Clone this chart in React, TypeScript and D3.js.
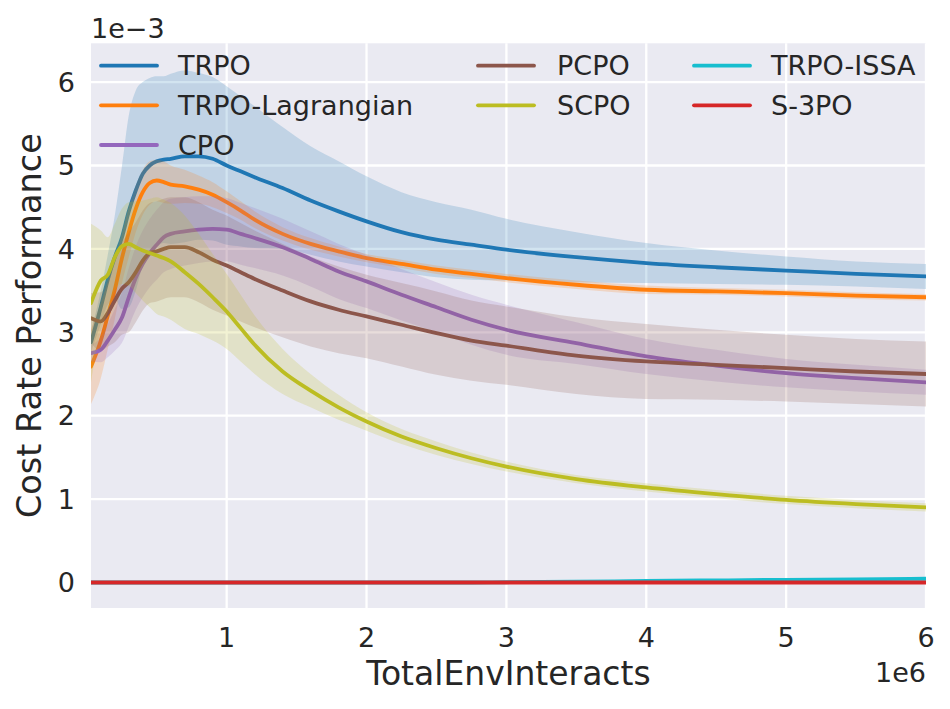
import React from 'react';
import * as d3 from 'd3';

// x in units of 1e6 env interacts, y in units of 1e-3
const steps = [0.03, 0.1, 0.15, 0.2, 0.25, 0.3, 0.35, 0.4, 0.45, 0.5, 0.55, 0.6, 0.7, 0.8, 0.9, 1.0,
  1.1, 1.2, 1.4, 1.6, 1.8, 2.0, 2.25, 2.5, 2.75, 3.0, 3.5, 4.0, 4.5, 5.0, 5.5, 6.0];

const trpoMean = [2.88, 3.3, 3.63, 3.9, 4.13, 4.45, 4.7, 4.9, 5.0, 5.05, 5.07, 5.08, 5.11, 5.11, 5.08, 5.0,
  4.93, 4.86, 4.73, 4.58, 4.45, 4.33, 4.2, 4.11, 4.05, 3.99, 3.9, 3.83, 3.78, 3.74, 3.7, 3.67];
const trpoStd = [0.12, 0.2, 0.3, 0.5, 0.85, 1.15, 1.2, 1.1, 1.05, 1.02, 1.0, 1.02, 1.03, 1.0, 0.98, 0.95,
  0.9, 0.85, 0.73, 0.65, 0.6, 0.54, 0.48, 0.45, 0.42, 0.37, 0.3, 0.24, 0.2, 0.17, 0.15, 0.15];

const lagMean = [2.59, 2.9, 3.2, 3.51, 3.88, 4.2, 4.48, 4.68, 4.79, 4.82, 4.8, 4.77, 4.75, 4.71, 4.65, 4.56,
  4.46, 4.35, 4.18, 4.06, 3.97, 3.89, 3.82, 3.75, 3.7, 3.65, 3.57, 3.51, 3.49, 3.47, 3.44, 3.42];
const lagStd = [0.45, 0.45, 0.4, 0.35, 0.3, 0.3, 0.28, 0.27, 0.26, 0.25, 0.25, 0.23, 0.2, 0.17, 0.15, 0.13,
  0.11, 0.1, 0.08, 0.07, 0.06, 0.05, 0.05, 0.05, 0.05, 0.05, 0.05, 0.05, 0.04, 0.04, 0.04, 0.04];

const cpoMean = [2.75, 2.79, 2.9, 3.03, 3.17, 3.42, 3.65, 3.82, 3.95, 4.05, 4.14, 4.18, 4.21, 4.23, 4.24, 4.23,
  4.18, 4.13, 4.02, 3.88, 3.73, 3.61, 3.45, 3.3, 3.15, 3.03, 2.87, 2.71, 2.6, 2.51, 2.45, 2.4];
const cpoStd = [0.1, 0.15, 0.2, 0.25, 0.3, 0.35, 0.38, 0.4, 0.41, 0.42, 0.42, 0.42, 0.41, 0.4, 0.39, 0.38,
  0.37, 0.36, 0.34, 0.33, 0.33, 0.32, 0.31, 0.3, 0.3, 0.3, 0.25, 0.21, 0.19, 0.17, 0.16, 0.15];

const pcpoMean = [3.17, 3.13, 3.23, 3.38, 3.52, 3.6, 3.72, 3.86, 3.95, 3.97, 4.0, 4.02, 4.02, 3.96, 3.87, 3.8,
  3.72, 3.64, 3.5, 3.37, 3.27, 3.19, 3.09, 2.99, 2.9, 2.84, 2.72, 2.65, 2.61, 2.57, 2.53, 2.5];
const pcpoStd = [0.3, 0.35, 0.4, 0.5, 0.55, 0.6, 0.6, 0.6, 0.6, 0.6, 0.6, 0.6, 0.6, 0.6, 0.6, 0.6,
  0.59, 0.58, 0.56, 0.54, 0.52, 0.5, 0.5, 0.5, 0.48, 0.47, 0.46, 0.45, 0.42, 0.4, 0.39, 0.39];

const scpoMean = [3.35, 3.62, 3.69, 3.9, 4.03, 4.06, 4.02, 3.98, 3.95, 3.92, 3.89, 3.85, 3.72, 3.58, 3.42, 3.25,
  3.05, 2.85, 2.53, 2.3, 2.1, 1.93, 1.75, 1.61, 1.49, 1.39, 1.24, 1.14, 1.06, 0.99, 0.94, 0.9];
const scpoStd = [0.95, 0.6, 0.45, 0.4, 0.45, 0.5, 0.55, 0.6, 0.65, 0.7, 0.7, 0.7, 0.68, 0.6, 0.52, 0.45,
  0.4, 0.35, 0.27, 0.2, 0.15, 0.11, 0.09, 0.08, 0.07, 0.06, 0.05, 0.05, 0.05, 0.05, 0.05, 0.05];

const issaMean = [0, 0, 0, 0, 0, 0, 0, 0, 0, 0, 0, 0, 0, 0, 0, 0,
  0, 0, 0, 0, 0, 0, 0, 0, 0, 0.003, 0.01, 0.018, 0.025, 0.032, 0.038, 0.045];
const issaStd = [0.004, 0.004, 0.004, 0.004, 0.004, 0.004, 0.004, 0.004, 0.004, 0.004, 0.004, 0.004, 0.004, 0.004, 0.004, 0.004,
  0.004, 0.004, 0.004, 0.004, 0.004, 0.004, 0.004, 0.004, 0.004, 0.004, 0.005, 0.006, 0.007, 0.008, 0.008, 0.009];

const s3poMean = steps.map(() => 0);
const s3poStd = steps.map(() => 0.003);

const xTicks = [1, 2, 3, 4, 5, 6];
const yTicks = [0, 1, 2, 3, 4, 5, 6];

const series = [
  { name: 'TRPO', color: '#1f77b4', mean: trpoMean, std: trpoStd },
  { name: 'TRPO-Lagrangian', color: '#ff7f0e', mean: lagMean, std: lagStd },
  { name: 'CPO', color: '#9467bd', mean: cpoMean, std: cpoStd },
  { name: 'PCPO', color: '#8c564b', mean: pcpoMean, std: pcpoStd },
  { name: 'SCPO', color: '#bcbd22', mean: scpoMean, std: scpoStd },
  { name: 'TRPO-ISSA', color: '#17becf', mean: issaMean, std: issaStd },
  { name: 'S-3PO', color: '#d62728', mean: s3poMean, std: s3poStd },
];

const W = 950;
const H = 709;
const plot = { left: 91, right: 926, top: 43.3, bottom: 608 };
const font = '"DejaVu Sans", sans-serif';
const textColor = '#262626';
const lineW = 3.8;

export default function App() {
  const x = d3.scaleLinear().domain([0.03, 6.0]).range([plot.left, plot.right]);
  const y = d3.scaleLinear().domain([-0.306, 6.465]).range([plot.bottom, plot.top]);

  const line = d3.line<number>()
    .x((_, i) => x(steps[i]))
    .y(d => y(d))
    .curve(d3.curveMonotoneX);

  const area = (mean: number[], std: number[]) =>
    d3.area<number>()
      .x((_, i) => x(steps[i]))
      .y0((d, i) => y(d - std[i]))
      .y1((d, i) => y(d + std[i]))
      .curve(d3.curveMonotoneX)(mean) || '';

  // legend: 3 columns, column-major
  const legendCols = [
    { lineX: 101, textX: 178 },
    { lineX: 478, textX: 557 },
    { lineX: 694, textX: 771 },
  ];
  const legendRows = [65.7, 105.3, 145];
  const legendSlots = [[0, 0], [0, 1], [0, 2], [1, 0], [1, 1], [2, 0], [2, 1]];

  return (
    <div style={{ position: 'absolute', left: 0, top: 0 }}>
      <svg width={W} height={H} style={{ display: 'block', background: '#fff' }}>
        <defs>
          <clipPath id="plot-clip">
            <rect x={plot.left} y={plot.top} width={plot.right - plot.left} height={plot.bottom - plot.top} />
          </clipPath>
        </defs>
        <rect x={plot.left} y={plot.top} width={plot.right - plot.left} height={plot.bottom - plot.top} fill="#EAEAF2" />

        {/* grid */}
        {xTicks.map(t => (
          <line key={'gx' + t} x1={x(t)} x2={x(t)} y1={plot.top} y2={plot.bottom} stroke="#fff" strokeWidth={2.3} />
        ))}
        {yTicks.map(t => (
          <line key={'gy' + t} x1={plot.left} x2={plot.right} y1={y(t)} y2={y(t)} stroke="#fff" strokeWidth={2.3} />
        ))}

        <g clipPath="url(#plot-clip)">
          {series.map(s => (
            <g key={s.name}>
              <path d={area(s.mean, s.std)} fill={s.color} fillOpacity={0.2} stroke="none" />
              <path d={line(s.mean) || ''} fill="none" stroke={s.color} strokeWidth={lineW} strokeLinecap="round" strokeLinejoin="round" />
            </g>
          ))}
        </g>

        {/* ticks */}
        {xTicks.map(t => (
          <text key={'tx' + t} x={x(t)} y={646.7} textAnchor="middle" fontFamily={font} fontSize={27} fill={textColor}>{t}</text>
        ))}
        {yTicks.map(t => (
          <text key={'ty' + t} x={75} y={y(t)} dy="0.36em" textAnchor="end" fontFamily={font} fontSize={27} fill={textColor}>{t}</text>
        ))}

        {/* offsets */}
        <text x={plot.left} y={38.3} fontFamily={font} fontSize={27} fill={textColor}>1e−3</text>
        <text x={plot.right} y={682} textAnchor="end" fontFamily={font} fontSize={27} fill={textColor}>1e6</text>

        {/* axis labels */}
        <text x={(plot.left + plot.right) / 2} y={685} textAnchor="middle" fontFamily={font} fontSize={33} fill={textColor}>TotalEnvInteracts</text>
        <text transform={`translate(41,${(plot.top + plot.bottom) / 2}) rotate(-90)`} textAnchor="middle" fontFamily={font} fontSize={33.5} fill={textColor}>Cost Rate Performance</text>

        {/* legend */}
        {series.map((s, i) => {
          const [c, r] = legendSlots[i];
          const col = legendCols[c];
          const ly = legendRows[r];
          return (
            <g key={'lg' + s.name}>
              <line x1={col.lineX} x2={col.lineX + 56} y1={ly} y2={ly} stroke={s.color} strokeWidth={lineW} strokeLinecap="round" />
              <text x={col.textX} y={ly} dy="0.36em" fontFamily={font} fontSize={27} fill={textColor}>{s.name}</text>
            </g>
          );
        })}
      </svg>
    </div>
  );
}
